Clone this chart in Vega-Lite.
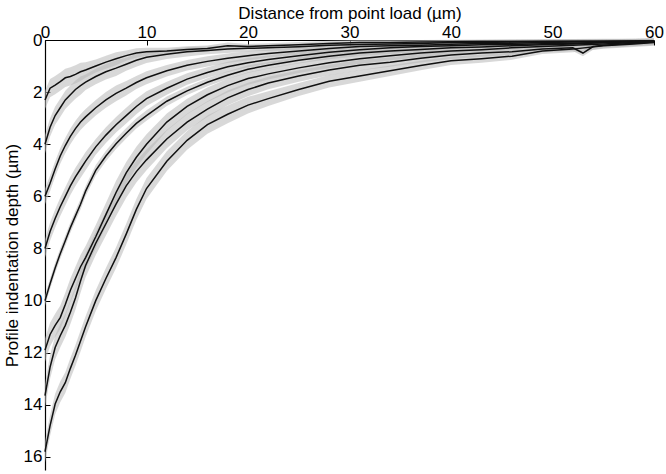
{
  "$schema": "https://vega.github.io/schema/vega-lite/v6.json",
  "width": 609,
  "height": 430,
  "autosize": {"type": "none"},
  "padding": {"left": 45, "top": 40, "right": 12, "bottom": 4},
  "background": "white",
  "config": {
    "view": {"stroke": null},
    "axis": {
      "labelFont": "Liberation Sans", "titleFont": "Liberation Sans",
      "labelFontSize": 17, "titleFontSize": 17, "titleFontWeight": "normal",
      "labelColor": "#000", "titleColor": "#000", "domainColor": "#000", "tickColor": "#000",
      "domainWidth": 1.2, "tickWidth": 1, "grid": false, "labelFlush": false, "labelOverlap": false
    }
  },
  "data": {"values": [
    {"c":"A","x":0,"d":2.3,"e":0.35},{"c":"A","x":0.5,"d":1.85,"e":0.35},{"c":"A","x":1,"d":1.73,"e":0.35},{"c":"A","x":1.5,"d":1.6,"e":0.35},{"c":"A","x":2,"d":1.45,"e":0.35},{"c":"A","x":2.5,"d":1.4,"e":0.35},{"c":"A","x":3,"d":1.32,"e":0.35},{"c":"A","x":3.5,"d":1.22,"e":0.35},{"c":"A","x":4,"d":1.15,"e":0.3},{"c":"A","x":5,"d":1.0,"e":0.25},{"c":"A","x":6,"d":0.85,"e":0.25},{"c":"A","x":7,"d":0.72,"e":0.25},{"c":"A","x":8,"d":0.6,"e":0.2},{"c":"A","x":9,"d":0.5,"e":0.18},{"c":"A","x":10,"d":0.45,"e":0.15},{"c":"A","x":12,"d":0.42,"e":0.12},{"c":"A","x":14,"d":0.36,"e":0.12},{"c":"A","x":16,"d":0.33,"e":0.12},{"c":"A","x":18,"d":0.22,"e":0.12},{"c":"A","x":20,"d":0.25,"e":0.1},{"c":"A","x":22,"d":0.22,"e":0.1},{"c":"A","x":25,"d":0.18,"e":0.1},{"c":"A","x":28,"d":0.13,"e":0.1},{"c":"A","x":31,"d":0.1,"e":0.1},{"c":"A","x":34,"d":0.1,"e":0.1},{"c":"A","x":37,"d":0.08,"e":0.08},{"c":"A","x":40,"d":0.07,"e":0.08},{"c":"A","x":43,"d":0.06,"e":0.08},{"c":"A","x":46,"d":0.06,"e":0.08},{"c":"A","x":49,"d":0.05,"e":0.08},{"c":"A","x":52,"d":0.05,"e":0.08},{"c":"A","x":55,"d":0.05,"e":0.08},{"c":"A","x":58,"d":0.04,"e":0.08},{"c":"A","x":60,"d":0.03,"e":0.08},
    {"c":"B","x":0,"d":4.0,"e":0.35},{"c":"B","x":0.5,"d":3.35,"e":0.35},{"c":"B","x":1,"d":2.9,"e":0.35},{"c":"B","x":1.5,"d":2.6,"e":0.35},{"c":"B","x":2,"d":2.3,"e":0.35},{"c":"B","x":2.5,"d":2.1,"e":0.35},{"c":"B","x":3,"d":1.9,"e":0.35},{"c":"B","x":3.5,"d":1.75,"e":0.35},{"c":"B","x":4,"d":1.62,"e":0.3},{"c":"B","x":5,"d":1.4,"e":0.3},{"c":"B","x":6,"d":1.22,"e":0.3},{"c":"B","x":7,"d":1.08,"e":0.3},{"c":"B","x":8,"d":0.93,"e":0.25},{"c":"B","x":9,"d":0.78,"e":0.25},{"c":"B","x":10,"d":0.66,"e":0.22},{"c":"B","x":12,"d":0.55,"e":0.18},{"c":"B","x":14,"d":0.45,"e":0.18},{"c":"B","x":16,"d":0.4,"e":0.15},{"c":"B","x":18,"d":0.35,"e":0.15},{"c":"B","x":20,"d":0.32,"e":0.12},{"c":"B","x":22,"d":0.3,"e":0.12},{"c":"B","x":25,"d":0.26,"e":0.12},{"c":"B","x":28,"d":0.2,"e":0.12},{"c":"B","x":31,"d":0.17,"e":0.12},{"c":"B","x":34,"d":0.15,"e":0.1},{"c":"B","x":37,"d":0.13,"e":0.1},{"c":"B","x":40,"d":0.1,"e":0.1},{"c":"B","x":43,"d":0.1,"e":0.1},{"c":"B","x":46,"d":0.08,"e":0.1},{"c":"B","x":49,"d":0.07,"e":0.1},{"c":"B","x":52,"d":0.06,"e":0.1},{"c":"B","x":55,"d":0.05,"e":0.1},{"c":"B","x":58,"d":0.05,"e":0.1},{"c":"B","x":60,"d":0.04,"e":0.1},
    {"c":"C","x":0,"d":6.0,"e":0.3},{"c":"C","x":0.5,"d":5.5,"e":0.3},{"c":"C","x":1,"d":4.95,"e":0.3},{"c":"C","x":1.5,"d":4.45,"e":0.3},{"c":"C","x":2,"d":4.05,"e":0.3},{"c":"C","x":2.5,"d":3.7,"e":0.3},{"c":"C","x":3,"d":3.4,"e":0.3},{"c":"C","x":3.5,"d":3.15,"e":0.3},{"c":"C","x":4,"d":2.95,"e":0.3},{"c":"C","x":5,"d":2.6,"e":0.3},{"c":"C","x":6,"d":2.3,"e":0.3},{"c":"C","x":7,"d":2.05,"e":0.3},{"c":"C","x":8,"d":1.85,"e":0.28},{"c":"C","x":9,"d":1.63,"e":0.25},{"c":"C","x":10,"d":1.45,"e":0.25},{"c":"C","x":12,"d":1.18,"e":0.22},{"c":"C","x":14,"d":0.97,"e":0.2},{"c":"C","x":16,"d":0.82,"e":0.2},{"c":"C","x":18,"d":0.7,"e":0.18},{"c":"C","x":20,"d":0.6,"e":0.18},{"c":"C","x":22,"d":0.52,"e":0.15},{"c":"C","x":25,"d":0.42,"e":0.15},{"c":"C","x":28,"d":0.33,"e":0.15},{"c":"C","x":31,"d":0.25,"e":0.13},{"c":"C","x":34,"d":0.22,"e":0.12},{"c":"C","x":37,"d":0.2,"e":0.12},{"c":"C","x":40,"d":0.16,"e":0.12},{"c":"C","x":43,"d":0.13,"e":0.1},{"c":"C","x":46,"d":0.12,"e":0.1},{"c":"C","x":49,"d":0.1,"e":0.1},{"c":"C","x":52,"d":0.08,"e":0.1},{"c":"C","x":55,"d":0.07,"e":0.1},{"c":"C","x":58,"d":0.05,"e":0.1},{"c":"C","x":60,"d":0.04,"e":0.1},
    {"c":"D","x":0,"d":8.0,"e":0.35},{"c":"D","x":0.5,"d":7.35,"e":0.35},{"c":"D","x":1,"d":6.85,"e":0.35},{"c":"D","x":1.5,"d":6.4,"e":0.35},{"c":"D","x":2,"d":6.0,"e":0.35},{"c":"D","x":2.5,"d":5.6,"e":0.35},{"c":"D","x":3,"d":5.25,"e":0.35},{"c":"D","x":3.5,"d":4.95,"e":0.35},{"c":"D","x":4,"d":4.65,"e":0.35},{"c":"D","x":5,"d":4.1,"e":0.3},{"c":"D","x":6,"d":3.65,"e":0.3},{"c":"D","x":7,"d":3.25,"e":0.3},{"c":"D","x":8,"d":2.9,"e":0.3},{"c":"D","x":9,"d":2.55,"e":0.3},{"c":"D","x":10,"d":2.25,"e":0.28},{"c":"D","x":12,"d":1.85,"e":0.25},{"c":"D","x":14,"d":1.5,"e":0.22},{"c":"D","x":16,"d":1.25,"e":0.2},{"c":"D","x":18,"d":1.03,"e":0.2},{"c":"D","x":20,"d":0.87,"e":0.18},{"c":"D","x":22,"d":0.75,"e":0.16},{"c":"D","x":25,"d":0.6,"e":0.15},{"c":"D","x":28,"d":0.47,"e":0.15},{"c":"D","x":31,"d":0.37,"e":0.15},{"c":"D","x":34,"d":0.3,"e":0.14},{"c":"D","x":37,"d":0.25,"e":0.13},{"c":"D","x":40,"d":0.22,"e":0.12},{"c":"D","x":43,"d":0.18,"e":0.1},{"c":"D","x":46,"d":0.17,"e":0.1},{"c":"D","x":49,"d":0.14,"e":0.1},{"c":"D","x":52,"d":0.12,"e":0.1},{"c":"D","x":55,"d":0.09,"e":0.1},{"c":"D","x":58,"d":0.06,"e":0.1},{"c":"D","x":60,"d":0.05,"e":0.1},
    {"c":"E","x":0,"d":10.0,"e":0.2},{"c":"E","x":0.5,"d":9.35,"e":0.2},{"c":"E","x":1,"d":8.75,"e":0.2},{"c":"E","x":1.5,"d":8.2,"e":0.2},{"c":"E","x":2,"d":7.7,"e":0.2},{"c":"E","x":2.5,"d":7.2,"e":0.2},{"c":"E","x":3,"d":6.75,"e":0.2},{"c":"E","x":3.5,"d":6.3,"e":0.2},{"c":"E","x":4,"d":5.8,"e":0.2},{"c":"E","x":5,"d":5.0,"e":0.2},{"c":"E","x":6,"d":4.45,"e":0.2},{"c":"E","x":7,"d":3.98,"e":0.2},{"c":"E","x":8,"d":3.58,"e":0.2},{"c":"E","x":9,"d":3.2,"e":0.2},{"c":"E","x":10,"d":2.9,"e":0.2},{"c":"E","x":12,"d":2.35,"e":0.18},{"c":"E","x":14,"d":1.95,"e":0.16},{"c":"E","x":16,"d":1.62,"e":0.15},{"c":"E","x":18,"d":1.35,"e":0.15},{"c":"E","x":20,"d":1.12,"e":0.15},{"c":"E","x":22,"d":0.97,"e":0.13},{"c":"E","x":25,"d":0.78,"e":0.12},{"c":"E","x":28,"d":0.62,"e":0.12},{"c":"E","x":31,"d":0.5,"e":0.12},{"c":"E","x":34,"d":0.42,"e":0.12},{"c":"E","x":37,"d":0.36,"e":0.12},{"c":"E","x":40,"d":0.3,"e":0.12},{"c":"E","x":43,"d":0.27,"e":0.1},{"c":"E","x":46,"d":0.22,"e":0.1},{"c":"E","x":49,"d":0.18,"e":0.1},{"c":"E","x":52,"d":0.15,"e":0.1},{"c":"E","x":55,"d":0.11,"e":0.1},{"c":"E","x":58,"d":0.07,"e":0.1},{"c":"E","x":60,"d":0.05,"e":0.1},
    {"c":"F","x":0,"d":11.9,"e":0.45},{"c":"F","x":0.5,"d":11.3,"e":0.45},{"c":"F","x":1,"d":10.95,"e":0.45},{"c":"F","x":1.5,"d":10.65,"e":0.45},{"c":"F","x":2,"d":10.15,"e":0.45},{"c":"F","x":2.5,"d":9.6,"e":0.45},{"c":"F","x":3,"d":9.15,"e":0.45},{"c":"F","x":3.5,"d":8.7,"e":0.45},{"c":"F","x":4,"d":8.35,"e":0.45},{"c":"F","x":5,"d":7.55,"e":0.45},{"c":"F","x":6,"d":6.7,"e":0.45},{"c":"F","x":7,"d":5.85,"e":0.45},{"c":"F","x":8,"d":5.1,"e":0.42},{"c":"F","x":9,"d":4.5,"e":0.4},{"c":"F","x":10,"d":4.0,"e":0.38},{"c":"F","x":12,"d":3.15,"e":0.33},{"c":"F","x":14,"d":2.55,"e":0.3},{"c":"F","x":16,"d":2.1,"e":0.28},{"c":"F","x":18,"d":1.75,"e":0.26},{"c":"F","x":20,"d":1.48,"e":0.24},{"c":"F","x":22,"d":1.3,"e":0.22},{"c":"F","x":25,"d":1.07,"e":0.2},{"c":"F","x":28,"d":0.87,"e":0.2},{"c":"F","x":31,"d":0.72,"e":0.2},{"c":"F","x":34,"d":0.6,"e":0.18},{"c":"F","x":37,"d":0.5,"e":0.16},{"c":"F","x":40,"d":0.42,"e":0.15},{"c":"F","x":43,"d":0.37,"e":0.14},{"c":"F","x":46,"d":0.3,"e":0.12},{"c":"F","x":49,"d":0.25,"e":0.12},{"c":"F","x":52,"d":0.2,"e":0.12},{"c":"F","x":55,"d":0.15,"e":0.12},{"c":"F","x":58,"d":0.1,"e":0.12},{"c":"F","x":60,"d":0.07,"e":0.12},
    {"c":"G","x":0,"d":13.65,"e":0.45},{"c":"G","x":0.5,"d":12.55,"e":0.45},{"c":"G","x":1,"d":11.8,"e":0.45},{"c":"G","x":1.5,"d":11.35,"e":0.45},{"c":"G","x":2,"d":10.95,"e":0.45},{"c":"G","x":2.5,"d":10.45,"e":0.45},{"c":"G","x":3,"d":9.9,"e":0.45},{"c":"G","x":3.5,"d":9.25,"e":0.45},{"c":"G","x":4,"d":8.65,"e":0.45},{"c":"G","x":5,"d":7.8,"e":0.45},{"c":"G","x":6,"d":7.05,"e":0.45},{"c":"G","x":7,"d":6.3,"e":0.45},{"c":"G","x":8,"d":5.6,"e":0.45},{"c":"G","x":9,"d":5.05,"e":0.42},{"c":"G","x":10,"d":4.6,"e":0.4},{"c":"G","x":12,"d":3.8,"e":0.35},{"c":"G","x":14,"d":3.15,"e":0.32},{"c":"G","x":16,"d":2.65,"e":0.3},{"c":"G","x":18,"d":2.22,"e":0.28},{"c":"G","x":20,"d":1.9,"e":0.26},{"c":"G","x":22,"d":1.65,"e":0.24},{"c":"G","x":25,"d":1.38,"e":0.22},{"c":"G","x":28,"d":1.15,"e":0.2},{"c":"G","x":31,"d":0.97,"e":0.2},{"c":"G","x":34,"d":0.85,"e":0.18},{"c":"G","x":37,"d":0.7,"e":0.16},{"c":"G","x":40,"d":0.58,"e":0.15},{"c":"G","x":43,"d":0.5,"e":0.14},{"c":"G","x":46,"d":0.45,"e":0.12},{"c":"G","x":49,"d":0.35,"e":0.12},{"c":"G","x":52,"d":0.3,"e":0.12},{"c":"G","x":53,"d":0.5,"e":0.12},{"c":"G","x":54,"d":0.25,"e":0.12},{"c":"G","x":55,"d":0.2,"e":0.12},{"c":"G","x":58,"d":0.12,"e":0.12},{"c":"G","x":60,"d":0.08,"e":0.12},
    {"c":"H","x":0,"d":15.8,"e":0.4},{"c":"H","x":0.5,"d":14.8,"e":0.4},{"c":"H","x":1,"d":13.97,"e":0.4},{"c":"H","x":1.5,"d":13.5,"e":0.4},{"c":"H","x":2,"d":13.15,"e":0.4},{"c":"H","x":2.5,"d":12.6,"e":0.4},{"c":"H","x":3,"d":12.1,"e":0.4},{"c":"H","x":3.5,"d":11.55,"e":0.4},{"c":"H","x":4,"d":11.0,"e":0.4},{"c":"H","x":5,"d":10.0,"e":0.4},{"c":"H","x":6,"d":9.15,"e":0.4},{"c":"H","x":7,"d":8.35,"e":0.4},{"c":"H","x":8,"d":7.45,"e":0.4},{"c":"H","x":9,"d":6.5,"e":0.4},{"c":"H","x":10,"d":5.7,"e":0.4},{"c":"H","x":12,"d":4.65,"e":0.38},{"c":"H","x":14,"d":3.85,"e":0.36},{"c":"H","x":16,"d":3.25,"e":0.35},{"c":"H","x":18,"d":2.85,"e":0.34},{"c":"H","x":20,"d":2.5,"e":0.32},{"c":"H","x":22,"d":2.25,"e":0.28},{"c":"H","x":25,"d":1.9,"e":0.25},{"c":"H","x":28,"d":1.58,"e":0.24},{"c":"H","x":31,"d":1.38,"e":0.22},{"c":"H","x":34,"d":1.18,"e":0.2},{"c":"H","x":37,"d":0.98,"e":0.18},{"c":"H","x":40,"d":0.8,"e":0.16},{"c":"H","x":43,"d":0.72,"e":0.15},{"c":"H","x":46,"d":0.62,"e":0.14},{"c":"H","x":49,"d":0.42,"e":0.12},{"c":"H","x":52,"d":0.35,"e":0.12},{"c":"H","x":55,"d":0.22,"e":0.12},{"c":"H","x":58,"d":0.15,"e":0.12},{"c":"H","x":60,"d":0.1,"e":0.12}
  ]},
  "encoding": {
    "x": {"field": "x", "type": "quantitative",
      "scale": {"domain": [0, 60], "nice": false, "zero": false},
      "axis": {"orient": "top", "values": [0, 10, 20, 30, 40, 50, 60], "title": "Distance from point load (µm)", "tickSize": -5, "labelPadding": 4, "titlePadding": 1}},
    "y": {"field": "d", "type": "quantitative",
      "scale": {"domain": [0, 16.5], "nice": false, "reverse": true},
      "axis": {"values": [0, 2, 4, 6, 8, 10, 12, 14, 16], "title": "Profile indentation depth (µm)", "tickSize": -5, "labelPadding": 8, "titlePadding": 2}},
    "detail": {"field": "c"}
  },
  "layer": [
    {"mark": {"type": "errorband", "color": "#b8b8b8", "opacity": 0.55, "clip": false},
     "encoding": {"yError": {"field": "e"}}},
    {"mark": {"type": "line", "color": "#111111", "strokeWidth": 1.5, "clip": false}}
  ]
}
